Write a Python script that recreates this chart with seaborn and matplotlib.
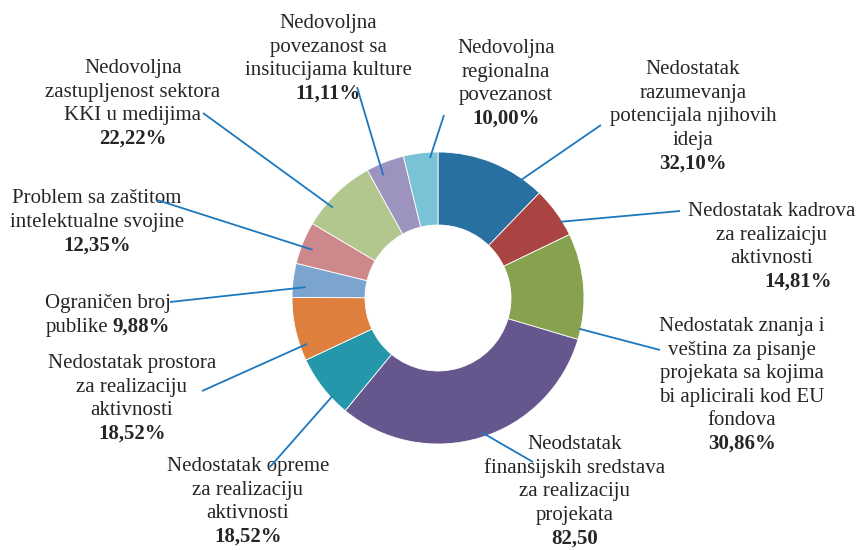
import numpy as np
import matplotlib
matplotlib.use("Agg")
import matplotlib.pyplot as plt
import seaborn as sns

# ---------------- data ----------------
categories = [
    "Nedostatak\nrazumevanja\npotencijala njihovih\nideja",
    "Nedostatak kadrova\nza realizaicju\naktivnosti",
    "Nedostatak znanja i\nveština za pisanje\nprojekata sa kojima\nbi aplicirali kod EU\nfondova",
    "Neodstatak\nfinansijskih sredstava\nza realizaciju\nprojekata",
    "Nedostatak opreme\nza realizaciju\naktivnosti",
    "Nedostatak prostora\nza realizaciju\naktivnosti",
    "Ograničen broj\npublike",
    "Problem sa zaštitom\nintelektualne svojine",
    "Nedovoljna\nzastupljenost sektora\nKKI u medijima",
    "Nedovoljna\npovezanost sa\ninsitucijama kulture",
    "Nedovoljna\nregionalna\npovezanost",
]
values = [32.10, 14.81, 30.86, 82.50, 18.52, 18.52, 9.88, 12.35, 22.22, 11.11, 10.00]
value_labels = ["32,10%", "14,81%", "30,86%", "82,50", "18,52%", "18,52%",
                "9,88%", "12,35%", "22,22%", "11,11%", "10,00%"]
colors = ["#2870A2", "#A94443", "#86A24F", "#65578E", "#2497AA", "#DE7F3D",
          "#7BA4CF", "#CD888C", "#B2C78D", "#9C93BF", "#7AC2D5"]

# ---------------- layout (pixel coords, y down) ----------------
W, H = 857, 550
CX, CY, R = 438, 298, 146
HOLE = 0.5
LINE_H = 23.6
# first text line centre for each label
label_xy = [(693, 68), (772, 210), (742, 325), (575, 443), (248, 465), (132, 362),
            (108, 302), (97, 197), (133, 67), (328, 22), (506, 47)]
pct_dx = [0, 26, 0, 0, 0, 0, 0, 0, 0, 0, 0]
inline_pct = [False, False, False, False, False, False, True, False, False, False, False]
# leader line: end near text, anchor inside wedge (fraction of wedge angle, fraction of radius)
leader_text_end = [(601, 125), (680, 211), (660, 350), (533, 462), (270, 467), (202, 391),
                   (170, 302), (157, 200), (203, 113), (357, 87), (444, 115)]
anchor_frac = [0.79, 0.70, 0.90, 0.49, 0.30, 0.23, 0.33, 0.43, 0.33, 0.32, 0.76]
anchor_rad = [0.97, 0.99, 0.99, 0.97, 0.99, 0.95, 0.91, 0.92, 0.95, 0.92, 0.96]

sns.set_theme(style="white")
plt.rcParams["font.family"] = ["Liberation Serif", "DejaVu Serif"]

fig = plt.figure(figsize=(W / 100, H / 100), dpi=100)
ax = fig.add_axes([0, 0, 1, 1])

wedges, _ = ax.pie(values, colors=colors, center=(CX, CY), radius=R,
                   startangle=-90, counterclock=True,
                   wedgeprops=dict(width=R * (1 - HOLE), edgecolor="white", linewidth=0.6))
ax.set_xlim(0, W)
ax.set_ylim(H, 0)
ax.set_aspect("equal")
ax.axis("off")

txt_color = "#262626"
line_color = "#1E78BE"
FS = 15

for i, w in enumerate(wedges):
    ang = np.deg2rad(w.theta1 + anchor_frac[i] * (w.theta2 - w.theta1))
    r = anchor_rad[i] * R
    ax_, ay_ = CX + r * np.cos(ang), CY + r * np.sin(ang)
    tx, ty = leader_text_end[i]
    ax.plot([tx, ax_], [ty, ay_], color=line_color, lw=1.3, solid_capstyle="butt", zorder=5)

    x0, y0 = label_xy[i]
    lines = categories[i].split("\n")
    for j, ln in enumerate(lines):
        y = y0 + j * LINE_H
        if inline_pct[i] and j == len(lines) - 1:
            ax.text(x0, y + 6, ln, ha="right", va="baseline", fontsize=FS, color=txt_color)
            ax.text(x0 + 4, y + 6, value_labels[i], ha="left", va="baseline", fontsize=FS,
                    fontweight="bold", color=txt_color)
        else:
            ax.text(x0, y + 6, ln, ha="center", va="baseline", fontsize=FS, color=txt_color)
    if not inline_pct[i]:
        y = y0 + len(lines) * LINE_H
        ax.text(x0 + pct_dx[i], y + 6, value_labels[i], ha="center", va="baseline",
                fontsize=FS, fontweight="bold", color=txt_color)

fig.savefig("out.png", dpi=100, facecolor="white")
